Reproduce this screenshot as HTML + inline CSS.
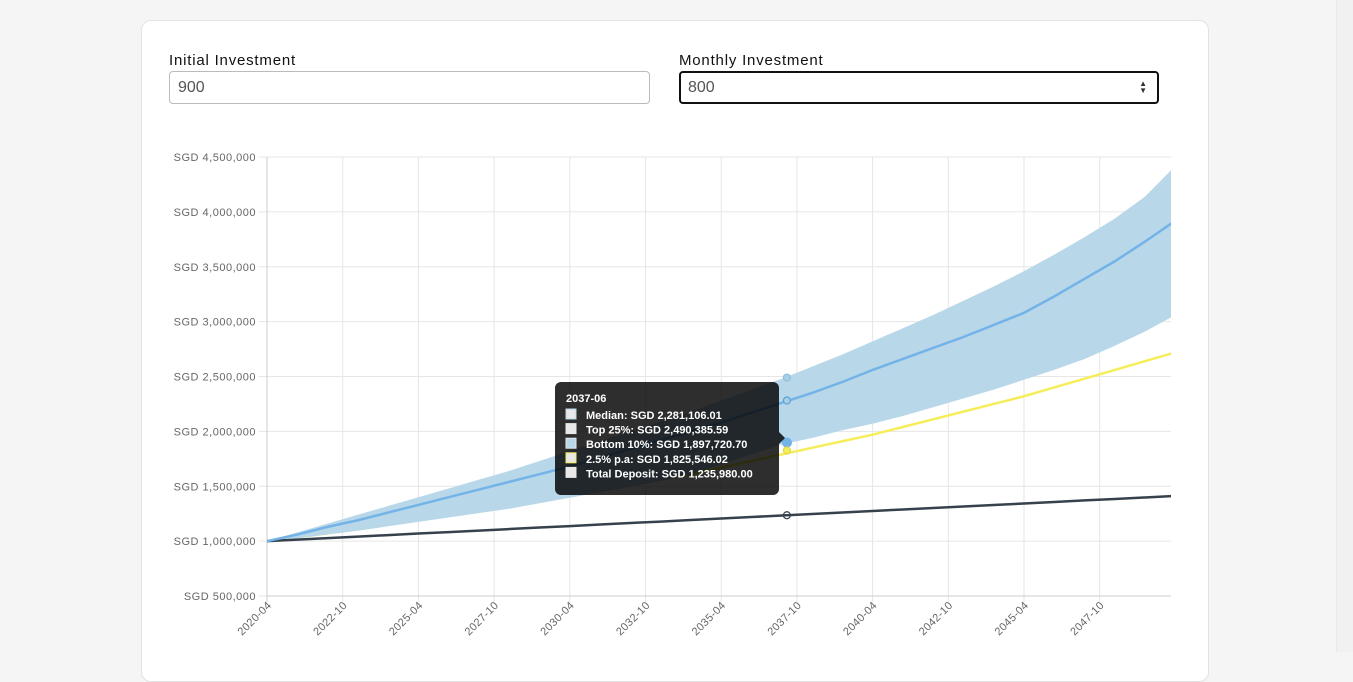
<!DOCTYPE html>
<html><head><meta charset="utf-8">
<style>
body{margin:0;width:1353px;height:652px;background:#f5f5f5;overflow:hidden;font-family:"Liberation Sans",sans-serif;position:relative}
.card{position:absolute;left:141px;top:20px;width:1066px;height:660px;background:#fff;border:1px solid #e3e3e3;border-radius:10px}
.lbl{position:absolute;top:52px;font-size:15px;letter-spacing:0.8px;color:#111}
.inp{position:absolute;top:71px;height:33px;box-sizing:border-box;border:1px solid #bbb;border-radius:4px;font-size:16px;color:#555;padding:7px 8px}
.sb{position:absolute;right:0;top:0;width:16px;height:652px;background:#f1f1f1;border-left:1px solid #e8e8e8}
svg{position:absolute;left:0;top:0}
</style></head><body>
<div class="sb"></div>
<div class="card"></div>
<div class="lbl" style="left:169px">Initial Investment</div>
<div class="inp" style="left:169px;width:481px">900</div>
<div class="lbl" style="left:679px">Monthly Investment</div>
<div class="inp" style="left:679px;width:480px;border:2px solid #111;padding:6px 7px">800<span style="position:absolute;right:10px;top:7px;font-size:8px;line-height:7px;color:#333">▲<br>▼</span></div>
<svg id="c" width="1353" height="652"></svg>
<script>
const yTicks=[500000,1000000,1500000,2000000,2500000,3000000,3500000,4000000,4500000];
const xTickLabels=["2020-04","2022-10","2025-04","2027-10","2030-04","2032-10","2035-04","2037-10","2040-04","2042-10","2045-04","2047-10"];
const years=[0,1,2,3,4,5,6,7,8,9,10,11,12,13,14,15,16,17,18,19,20,21,22,23,24,25,26,27,28,29,30];
const median=[1.00,1.06,1.13,1.19,1.26,1.33,1.40,1.47,1.54,1.61,1.68,1.76,1.84,1.92,2.00,2.08,2.17,2.26,2.35,2.45,2.56,2.66,2.76,2.86,2.97,3.08,3.23,3.39,3.55,3.73,3.92];
const top25=[1.00,1.08,1.16,1.24,1.32,1.40,1.48,1.56,1.64,1.73,1.82,1.91,2.00,2.09,2.18,2.28,2.38,2.48,2.59,2.70,2.82,2.94,3.06,3.19,3.32,3.46,3.61,3.77,3.94,4.14,4.42];
const bottom10=[1.00,1.025,1.06,1.095,1.135,1.175,1.215,1.255,1.295,1.345,1.395,1.445,1.495,1.55,1.61,1.70,1.79,1.88,1.94,2.01,2.07,2.14,2.22,2.30,2.38,2.47,2.56,2.66,2.78,2.91,3.06];
const rate25=[1.00,1.035,1.07,1.11,1.15,1.19,1.23,1.27,1.31,1.36,1.41,1.46,1.51,1.56,1.61,1.67,1.73,1.79,1.85,1.91,1.97,2.04,2.11,2.18,2.25,2.32,2.40,2.48,2.56,2.64,2.72];
const deposit=[1.000,1.014,1.027,1.041,1.055,1.069,1.082,1.096,1.110,1.124,1.137,1.151,1.165,1.178,1.192,1.206,1.220,1.233,1.247,1.261,1.275,1.288,1.302,1.316,1.329,1.343,1.357,1.371,1.384,1.398,1.412];
const hoverYear=17.17;
const hoverVals=[2.281106,2.490386,1.897721,1.825546,1.23598];
const tipLines=["Median: SGD 2,281,106.01","Top 25%: SGD 2,490,385.59","Bottom 10%: SGD 1,897,720.70","2.5% p.a: SGD 1,825,546.02","Total Deposit: SGD 1,235,980.00"];
const L=267,R=1171,T=157,B=596;
const xs=y=>L+y*12*(75.7/30);
const ys=v=>B-(v-500000)/4000000*(B-T);
const ym=v=>ys(v*1e6);
const s=document.getElementById('c');const NS='http://www.w3.org/2000/svg';
function el(t,a,p){const e=document.createElementNS(NS,t);for(const k in a)e.setAttribute(k,a[k]);(p||s).appendChild(e);return e;}
const clip=el('clipPath',{id:'pc'});el('rect',{x:L,y:T-5,width:R-L,height:B-T+10},clip);
yTicks.forEach((v,i)=>{const y=ys(v);
 const g=el('line',{x1:L-8,x2:R,y1:y,y2:y,stroke:'#e6e6e6'});
 const t=el('text',{x:L-11,y:y+4,'text-anchor':'end','font-size':11,fill:'#666','letter-spacing':'0.5'});t.textContent='SGD '+v.toLocaleString('en-US');
 });
xTickLabels.forEach((lab,i)=>{const x=xs(i*2.5);
 const g=el('line',{x1:x,x2:x,y1:T,y2:B+6,stroke:i==0?'#ccc':'#e6e6e6'});
 const tx=x+5,ty=B+10;
 const t=el('text',{x:tx,y:ty,'text-anchor':'end','font-size':11,fill:'#666','letter-spacing':'0.3',transform:`rotate(-45 ${tx} ${ty})`});t.textContent=lab;
 });
el('line',{x1:L,x2:R,y1:B,y2:B,stroke:'#ccc'});
const pts=arr=>years.map((yr,i)=>xs(yr)+','+ym(arr[i]));
const yl=el('polyline',{points:pts(rate25).join(' '),fill:'none',stroke:'#f5ee5a','stroke-width':2.5,'clip-path':'url(#pc)'});

const band=el('polygon',{points:pts(top25).concat(pts(bottom10).reverse()).join(' '),fill:'#b8d8ea','clip-path':'url(#pc)'});

const series=[[deposit,'#36414d','deposit-line'],[median,'#74b3e8','median-line']];
series.forEach(([a,c,n])=>{const p=el('polyline',{points:pts(a).join(' '),fill:'none',stroke:c,'stroke-width':2.5,'clip-path':'url(#pc)'});
 });
const hx=xs(hoverYear);
const pc=[['#a9cfe6','#8fbfdd'],['#a9cfe6','#8fbfdd'],['#74b3e8','#74b3e8'],['#f5ee5a','#e0d84a'],['#ffffff','#36414d']];
const order=[1,0,2,3,4];
order.forEach(i=>{const c=el('circle',{cx:hx,cy:ym(hoverVals[i]),r:i==2?4.5:3.5,fill:i==4?'none':pc[i][0],stroke:i==0?'#5b9fd6':pc[i][1],'stroke-width':1.2});
 });
const tg=el('g',{});
el('rect',{x:555,y:382,width:224,height:113,rx:6,fill:'rgba(0,0,0,0.82)'},tg);
el('polygon',{points:'779,432 785,438 779,444',fill:'rgba(0,0,0,0.82)'},tg);
const tt=el('text',{x:566,y:402,'font-size':11,'font-weight':'bold',fill:'#fff'},tg);tt.textContent='2037-06';
const sw=[['#e8e8e8','#b8d8ea'],['#e8e8e8','#e8e8e8'],['#b8d8ea','#e8e8e8'],['#e8e8e8','#f5ee5a'],['#e8e8e8','#e8e8e8']];
tipLines.forEach((l,i)=>{const y=416+i*14.6;
 el('rect',{x:566,y:y-7,width:10,height:10,fill:sw[i][0],stroke:sw[i][1],'stroke-width':1},tg);
 const t=el('text',{x:586,y:y+3,'font-size':11,'font-weight':'bold',fill:'#fff'},tg);t.textContent=l;});
</script>
</body></html>
